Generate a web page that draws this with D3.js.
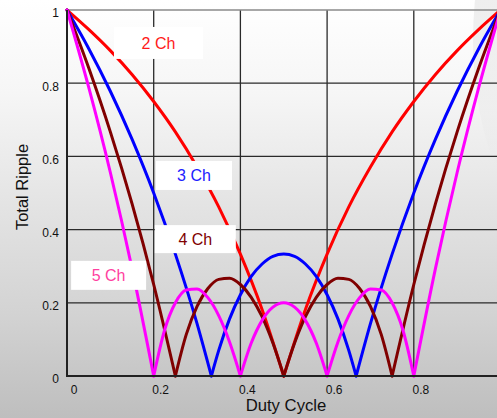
<!DOCTYPE html>
<html><head><meta charset="utf-8">
<script src="https://cdn.jsdelivr.net/npm/d3@7"></script>
<style>html,body{margin:0;padding:0;overflow:hidden;background:#fff;} svg{display:block;}</style>
</head><body>
<script>
// ---- data ----
const duty2   = [0,0.05,0.1,0.15,0.2,0.25,0.3,0.35,0.4,0.45,0.5,0.55,0.6,0.65,0.7,0.75,0.8,0.85,0.9,0.95,1];
const ripple2 = [1,0.947,0.889,0.824,0.75,0.667,0.571,0.462,0.333,0.182,0,0.182,0.333,0.462,0.571,0.667,0.75,0.824,0.889,0.947,1];

const duty3   = [0,0.05,0.1,0.15,0.2,0.25,0.3,0.333,0.35,0.375,0.4,0.425,0.45,0.475,0.5,0.525,0.55,0.575,0.6,0.625,0.65,0.667,0.7,0.75,0.8,0.85,0.9,0.95,1];
const ripple3 = [1,0.895,0.778,0.647,0.5,0.333,0.143,0,0.070,0.156,0.222,0.272,0.306,0.327,0.333,0.327,0.306,0.272,0.222,0.156,0.070,0,0.143,0.333,0.5,0.647,0.778,0.895,1];

const duty4   = [0,0.05,0.1,0.15,0.2,0.25,0.275,0.3,0.325,0.35,0.375,0.4,0.425,0.45,0.475,0.5,0.525,0.55,0.575,0.6,0.625,0.65,0.675,0.7,0.725,0.75,0.8,0.85,0.9,0.95,1];
const ripple4 = [1,0.842,0.667,0.471,0.25,0,0.113,0.190,0.239,0.264,0.267,0.25,0.215,0.162,0.090,0,0.090,0.162,0.215,0.25,0.267,0.264,0.239,0.190,0.113,0,0.25,0.471,0.667,0.842,1];

const duty5   = [0,0.05,0.1,0.15,0.2,0.225,0.25,0.275,0.3,0.325,0.35,0.375,0.4,0.425,0.45,0.475,0.5,0.525,0.55,0.575,0.6,0.625,0.65,0.675,0.7,0.725,0.75,0.775,0.8,0.85,0.9,0.95,1];
const ripple5 = [1,0.789,0.556,0.294,0,0.125,0.2,0.235,0.238,0.214,0.165,0.093,0,0.090,0.152,0.188,0.2,0.188,0.152,0.090,0,0.093,0.165,0.214,0.238,0.235,0.2,0.125,0,0.294,0.556,0.789,1];

const seriesNames = ["2 Ch","3 Ch","4 Ch","5 Ch"];
const xTicks = [0,0.2,0.4,0.6,0.8];
const yTicks = [0,0.2,0.4,0.6,0.8,1];
const labelDuty   = [0.211,0.293,0.296,0.096];
const labelRipple = [0.910,0.548,0.374,0.275];

// ---- styles / layout ----
const W = 497, H = 418;
const lineColors = ["#ff0000","#0000ff","#800000","#ff00ff"];
const textColors = ["#ff1a1a","#2020ff","#800000","#ff3fa0"];
const boxSizes = [[89,32],[76,29],[81,28],[75,29]];

const series = [
  {name: seriesNames[0], d: duty2, r: ripple2},
  {name: seriesNames[1], d: duty3, r: ripple3},
  {name: seriesNames[2], d: duty4, r: ripple4},
  {name: seriesNames[3], d: duty5, r: ripple5}
];

const x = d3.scaleLinear().domain([0,1]).range([67,500.5]);
const y = d3.scaleLinear().domain([0,1]).range([376,10]);

const svg = d3.select("body").append("svg").attr("width",W).attr("height",H)
  .style("font-family","Arial, 'Liberation Sans', sans-serif");

const defs = svg.append("defs");
const grad = defs.append("linearGradient").attr("id","bg").attr("x1",0).attr("y1",0).attr("x2",0).attr("y2",1);
[[0,"#ffffff"],[0.22,"#f6f6f6"],[0.5,"#e3e3e3"],[0.75,"#d3d3d3"],[1,"#bebebe"]]
  .forEach(([o,c]) => grad.append("stop").attr("offset",o).attr("stop-color",c));
svg.append("rect").attr("width",W).attr("height",H).attr("fill","url(#bg)");

// faint shading at the right edge
const shade = defs.append("linearGradient").attr("id","shade").attr("x1",0).attr("y1",0).attr("x2",0).attr("y2",1);
[[0,"#e9e9e9",1],[0.6,"#e9e9e9",0.6],[1,"#e9e9e9",0]]
  .forEach(([o,c,a]) => shade.append("stop").attr("offset",o).attr("stop-color",c).attr("stop-opacity",a));
svg.append("ellipse").attr("cx",562).attr("cy",40).attr("rx",89).attr("ry",190).attr("fill","url(#shade)");

// grid lines
const grid = svg.append("g");
grid.selectAll("line.v").data([0.2,0.4,0.6,0.8]).join("line")
  .attr("x1",d=>x(d)).attr("x2",d=>x(d)).attr("y1",y(1)).attr("y2",y(0))
  .attr("stroke","#2a2a2a").attr("stroke-width",1.3);
grid.selectAll("line.h").data([0.2,0.4,0.6,0.8]).join("line")
  .attr("x1",x(0)).attr("x2",W).attr("y1",d=>y(d)).attr("y2",d=>y(d))
  .attr("stroke","#2a2a2a").attr("stroke-width",1.3);
grid.append("line").attr("x1",x(0)).attr("x2",W).attr("y1",y(1)).attr("y2",y(1))
  .attr("stroke","#8a8a8a").attr("stroke-width",1.5);

// curves, split at zeros so the cusps stay sharp
const line = d3.line().x(p=>x(p[0])).y(p=>y(p[1])).curve(d3.curveMonotoneX);
const curves = svg.append("g");
series.forEach((s,i) => {
  const pts = s.d.map((d,k)=>[d,s.r[k]]);
  const segs = []; let cur = [];
  pts.forEach((p,k) => {
    cur.push(p);
    if (p[1] === 0 && k > 0 && k < pts.length-1) { segs.push(cur); cur = [p]; }
  });
  segs.push(cur);
  curves.selectAll(null).data(segs).join("path")
    .attr("d", line).attr("fill","none").attr("stroke",lineColors[i])
    .attr("stroke-width",3).attr("stroke-linejoin","round").attr("stroke-linecap","round");
});

// labels
const labels = svg.append("g");
series.forEach((s,i) => {
  const cx = x(labelDuty[i]), cy = y(labelRipple[i]);
  const [bw,bh] = boxSizes[i];
  labels.append("rect").attr("x",cx-bw/2).attr("y",cy-bh/2).attr("width",bw).attr("height",bh).attr("fill","#ffffff");
  labels.append("text").attr("x",cx).attr("y",cy).attr("dy","0.36em").attr("text-anchor","middle")
    .attr("font-size",16).attr("fill",textColors[i]).text(s.name);
});

// axes
const fmt = d => d===0 ? "0" : d===1 ? "1" : d3.format(".1f")(d);
const yAxis = svg.append("g").attr("transform",`translate(${x(0)},0)`)
  .call(d3.axisLeft(y).tickValues(yTicks).tickSize(0).tickPadding(8).tickFormat(fmt));
yAxis.select(".domain").remove();
yAxis.selectAll("text").attr("font-size",12).attr("fill","#111").attr("transform","translate(0,3)")
  .style("font-family","Arial, 'Liberation Sans', sans-serif");

const xAxis = svg.append("g").attr("transform",`translate(0,${y(0)})`)
  .call(d3.axisBottom(x).tickValues(xTicks).tickSize(0).tickPadding(9.5).tickFormat(fmt));
xAxis.select(".domain").remove();
xAxis.selectAll("text").attr("font-size",12).attr("fill","#111").attr("transform","translate(6.5,0)")
  .style("font-family","Arial, 'Liberation Sans', sans-serif");

svg.append("line").attr("x1",x(0)).attr("x2",x(0)).attr("y1",y(1)).attr("y2",y(0)+1)
  .attr("stroke","#222").attr("stroke-width",2);
svg.append("line").attr("x1",x(0)-1).attr("x2",W).attr("y1",y(0)).attr("y2",y(0))
  .attr("stroke","#222").attr("stroke-width",2);

// axis titles
svg.append("text").attr("x",286).attr("y",411).attr("text-anchor","middle")
  .attr("font-size",16.7).attr("fill","#111").text("Duty Cycle");
svg.append("text").attr("transform","translate(28,187) rotate(-90)").attr("text-anchor","middle")
  .attr("font-size",16.5).attr("fill","#111").text("Total Ripple");
</script>
</body></html>
